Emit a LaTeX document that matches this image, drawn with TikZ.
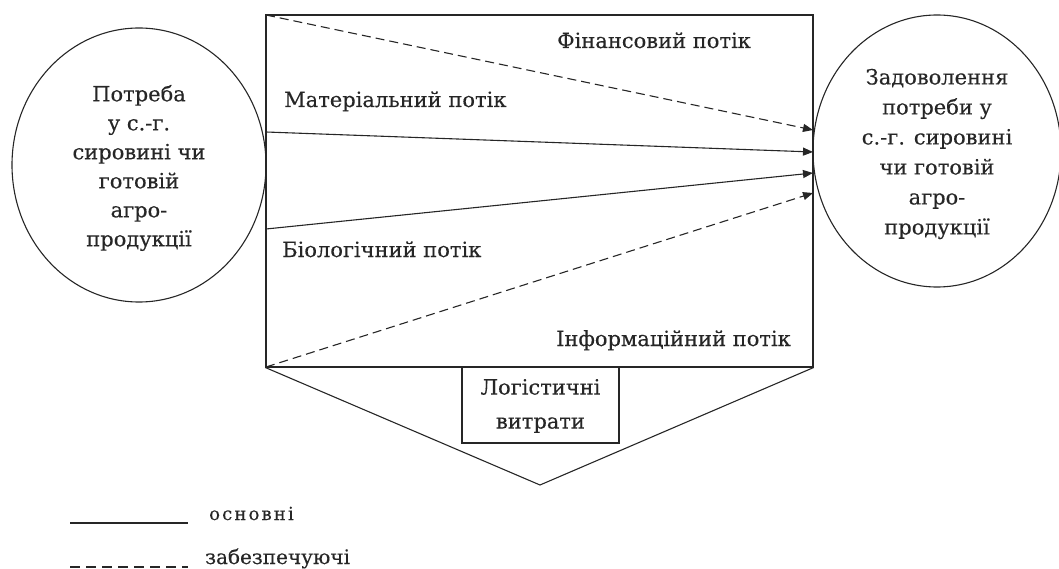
\documentclass[tikz,border=0pt]{standalone}
\usepackage{fontspec}
\setmainfont{DejaVu Serif}[FakeBold=0.3]
\newfontfamily\spacedfont{DejaVu Serif}[LetterSpace=12,FakeBold=0.3]
\usetikzlibrary{arrows.meta,shapes.geometric}
\begin{document}
\begin{tikzpicture}[x=1pt,y=-1pt,
  lw/.style={line width=1.1pt, draw=black!85},
  flow/.style={lw, -{Triangle[length=10pt,width=8pt]}},
  supply/.style={flow, dash pattern=on 9pt off 5pt},
  lbl/.style={font=\fontsize{21}{29}\selectfont, inner sep=0pt, text=black!85},
  multi/.style={lbl, align=center},
]
\useasboundingbox (0,0) rectangle (1059,569);
% ellipses
\node[lw, draw, ellipse, minimum width=254pt, minimum height=274pt, inner sep=0pt] (need) at (139,165) {};
\node[lw, draw, ellipse, minimum width=248pt, minimum height=272pt, inner sep=0pt] (sat) at (937,151) {};
\node[multi] (needtxt) at (139,168) {Потреба\\у с.-г.\\сировині чи\\готовій\\агро-\\продукції};
\node[multi, font=\fontsize{21}{30}\selectfont] (sattxt) at (937,154) {Задоволення\\потреби у\\с.-г. сировині\\чи готовій\\агро-\\продукції};
% main rectangle
\node[lw, draw, rectangle, minimum width=547pt, minimum height=352pt, inner sep=0pt] (sys) at (539.5,191) {};
% cost triangle
\coordinate (apex) at (540,485);
\draw[lw] (sys.south west) -- (apex) -- (sys.south east);
\node[lw, draw, rectangle, minimum width=157pt, minimum height=76pt, inner sep=0pt] (costbox) at (540.5,405) {};
\node[multi, font=\fontsize{21}{34}\selectfont] (costtxt) at (540.5,406) {Логістичні\\витрати};
% flow endpoints
\coordinate (fs) at (266,15);
\coordinate (fe) at (813,130);
\coordinate (ms) at (266,132);
\coordinate (me) at (813,152);
\coordinate (bs) at (266,229);
\coordinate (be) at (813,173);
\coordinate (is) at (266,367);
\coordinate (ie) at (813,193);
\draw[supply] (fs) -- (fe);
\draw[flow] (ms) -- (me);
\draw[flow] (bs) -- (be);
\draw[supply] (is) -- (ie);
% flow labels
\node[lbl, anchor=base west] (fl) at (557,48) {Фінансовий потік};
\node[lbl, anchor=base west] (ml) at (284,107) {Матеріальний потік};
\node[lbl, anchor=base west] (bl) at (282,257) {Біологічний потік};
\node[lbl, anchor=base east] (il) at (791,346) {Інформаційний потік};
% legend
\coordinate (l1a) at (70,523);
\coordinate (l1b) at (188,523);
\coordinate (l2a) at (70,567);
\coordinate (l2b) at (188,567);
\draw[lw] (l1a) -- (l1b);
\draw[lw, dash pattern=on 10pt off 6pt] (l2a) -- (l2b);
\node[inner sep=0pt, anchor=base west, text=black!85, font=\spacedfont\fontsize{18}{20}\selectfont] (leg1) at (209,520) {основні};
\node[inner sep=0pt, anchor=base west, text=black!85, font=\fontsize{20}{20}\selectfont] (leg2) at (205,564) {забезпечуючі};
\end{tikzpicture}
\end{document}
